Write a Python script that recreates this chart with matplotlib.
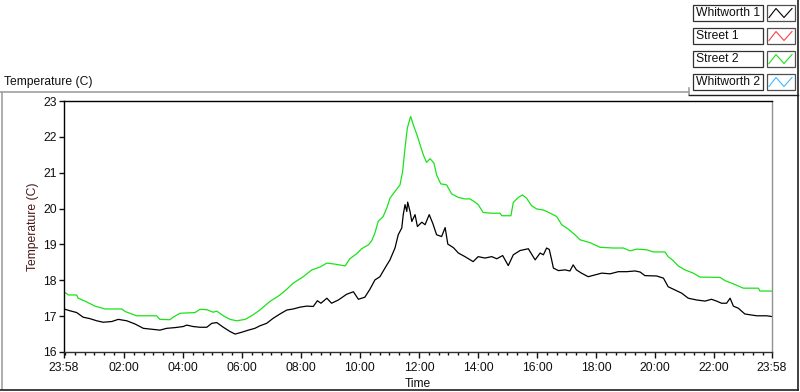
import matplotlib
matplotlib.use('Agg')
import matplotlib.pyplot as plt
from matplotlib.patches import Rectangle

plt.rcParams['font.family'] = ['Liberation Sans', 'DejaVu Sans']

# ---------------- data ----------------
series_names = ['Whitworth 1', 'Street 1', 'Street 2', 'Whitworth 2']
series_colors = ['#000000', '#ff4040', '#18e418', '#40b8ff']

x_tick_labels = ['23:58', '02:00', '04:00', '06:00', '08:00', '10:00', '12:00',
                 '14:00', '16:00', '18:00', '20:00', '22:00', '23:58']
y_ticks = [16, 17, 18, 19, 20, 21, 22, 23]
x_title = 'Time'
y_title = 'Temperature (C)'
chart_caption = 'Temperature (C)'

# hours elapsed since 23:58
whitworth1_hours = [0.00, 0.20, 0.43, 0.65, 0.88, 1.11, 1.33, 1.62, 1.84, 2.13, 2.41, 2.69,
                    3.03, 3.25, 3.48, 3.76, 4.04, 4.16, 4.38, 4.61, 4.84, 5.01, 5.18, 5.40,
                    5.63, 5.80, 6.02, 6.25, 6.47, 6.64, 6.87, 7.09, 7.32, 7.55, 7.77, 8.00,
                    8.23, 8.45, 8.59, 8.71, 8.91, 9.07, 9.30, 9.58, 9.81, 9.98, 10.20, 10.37,
                    10.54, 10.71, 10.88, 11.05, 11.22, 11.33, 11.45, 11.50, 11.56, 11.62, 11.65,
                    11.73, 11.79, 11.90, 11.98, 12.13, 12.24, 12.38, 12.50, 12.63, 12.80, 12.92,
                    13.01, 13.20, 13.37, 13.59, 13.87, 14.04, 14.27, 14.50, 14.67, 14.87, 15.06,
                    15.23, 15.46, 15.74, 15.97, 16.14, 16.25, 16.36, 16.45, 16.53, 16.59, 16.76,
                    16.98, 17.15, 17.26, 17.37, 17.54, 17.77, 18.00, 18.23, 18.51, 18.79, 19.07,
                    19.36, 19.53, 19.69, 20.09, 20.32, 20.48, 20.71, 20.94, 21.16, 21.45, 21.73,
                    21.95, 22.12, 22.29, 22.46, 22.58, 22.69, 22.86, 23.08, 23.48, 23.82, 23.99]
whitworth1_temp = [17.20, 17.15, 17.10, 16.97, 16.93, 16.87, 16.83, 16.85, 16.91, 16.87, 16.78, 16.66,
                   16.63, 16.61, 16.66, 16.68, 16.71, 16.75, 16.71, 16.69, 16.69, 16.80, 16.82, 16.69,
                   16.57, 16.50, 16.55, 16.61, 16.66, 16.73, 16.80, 16.94, 17.06, 17.17, 17.20, 17.25,
                   17.28, 17.27, 17.43, 17.36, 17.50, 17.36, 17.45, 17.61, 17.68, 17.47, 17.53, 17.75,
                   18.01, 18.10, 18.34, 18.57, 18.90, 19.27, 19.46, 19.83, 20.11, 19.92, 20.18,
                   19.92, 19.64, 19.83, 19.50, 19.62, 19.55, 19.83, 19.59, 19.27, 19.22, 19.47,
                   19.01, 18.91, 18.76, 18.66, 18.52, 18.66, 18.62, 18.66, 18.60, 18.69, 18.41,
                   18.71, 18.83, 18.88, 18.57, 18.76, 18.71, 18.90, 18.86, 18.57, 18.34, 18.27,
                   18.29, 18.26, 18.43, 18.29, 18.20, 18.10, 18.15, 18.20, 18.18, 18.24, 18.24,
                   18.26, 18.23, 18.13, 18.12, 18.06, 17.82, 17.73, 17.64, 17.50, 17.45, 17.42,
                   17.47, 17.42, 17.36, 17.36, 17.50, 17.28, 17.22, 17.06, 17.01, 17.01, 16.99]

street2_hours = [0.00, 0.15, 0.43, 0.48, 0.71, 1.05, 1.39, 1.96, 2.07, 2.46, 3.14, 3.25, 3.59,
                 3.70, 3.93, 4.44, 4.61, 4.84, 5.06, 5.18, 5.40, 5.63, 5.85, 6.14, 6.36, 6.64,
                 6.98, 7.32, 7.55, 7.77, 8.11, 8.40, 8.68, 8.91, 9.19, 9.53, 9.69, 9.92, 10.09,
                 10.32, 10.43, 10.54, 10.65, 10.82, 10.94, 11.05, 11.22, 11.39, 11.48, 11.56,
                 11.64, 11.75, 11.86, 11.98, 12.07, 12.18, 12.29, 12.41, 12.54, 12.63, 12.77,
                 12.97, 13.14, 13.37, 13.59, 13.76, 13.93, 14.04, 14.21, 14.50, 14.78, 14.84,
                 15.15, 15.23, 15.40, 15.54, 15.68, 15.85, 16.02, 16.25, 16.36, 16.53, 16.70,
                 16.87, 17.09, 17.32, 17.49, 17.83, 18.17, 18.62, 18.96, 19.19, 19.41, 19.75,
                 19.98, 20.37, 20.48, 20.65, 20.82, 21.05, 21.33, 21.56, 22.24, 22.41, 22.69,
                 23.03, 23.54, 23.59, 23.99]
street2_temp = [17.68, 17.59, 17.59, 17.50, 17.42, 17.28, 17.20, 17.20, 17.13, 17.01, 17.01, 16.91, 16.90,
                16.97, 17.08, 17.10, 17.19, 17.18, 17.11, 17.14, 17.01, 16.91, 16.87, 16.91, 17.01, 17.17,
                17.41, 17.59, 17.75, 17.92, 18.10, 18.29, 18.37, 18.48, 18.45, 18.40, 18.60, 18.74, 18.88,
                18.99, 19.10, 19.32, 19.64, 19.78, 20.01, 20.29, 20.48, 20.66, 21.04, 21.69,
                22.25, 22.57, 22.29, 22.02, 21.78, 21.50, 21.29, 21.39, 21.27, 20.94, 20.69,
                20.66, 20.41, 20.31, 20.27, 20.27, 20.18, 20.11, 19.89, 19.87, 19.87, 19.80,
                19.80, 20.17, 20.31, 20.38, 20.29, 20.08, 19.99, 19.96, 19.92, 19.85, 19.78,
                19.55, 19.43, 19.27, 19.13, 19.05, 18.92, 18.90, 18.90, 18.82, 18.87, 18.85,
                18.79, 18.79, 18.66, 18.55, 18.40, 18.29, 18.20, 18.09, 18.08, 17.99, 17.90,
                17.78, 17.78, 17.70, 17.70]


def clock_to_elapsed(label, start='23:58'):
    h, m = map(int, label.split(':'))
    sh, sm = map(int, start.split(':'))
    return ((h * 60 + m - (sh * 60 + sm)) % 1440) / 60.0


x_tick_pos = [clock_to_elapsed(l) for l in x_tick_labels]
x_tick_pos[-1] = 24.0
minor_pos = [clock_to_elapsed('00:00') + k / 3.0 for k in range(72)]
minor_pos = [p for p in minor_pos if p < 24.0 and all(abs(p - q) > 1e-6 for q in x_tick_pos)]

# ---------------- figure ----------------
fig = plt.figure(figsize=(8.0, 3.92), dpi=100)
fig.patch.set_facecolor('white')

# overlay in pixel coordinates for frame, caption and legend
bg = fig.add_axes([0, 0, 1, 1], zorder=0)
bg.set_xlim(0, 800)
bg.set_ylim(392, 0)
bg.axis('off')

gray = '#a0a0a0'
bg.plot([0, 689], [91.5, 91.5], color=gray, lw=1.2)
bg.plot([1.5, 1.5], [91.5, 389], color=gray, lw=1.2)
bg.plot([689, 689], [88, 95], color=gray, lw=1.2)
bg.plot([689, 798], [94.5, 94.5], color='#202020', lw=1.0)
bg.plot([797.5, 797.5], [0, 390], color='#202020', lw=1.2)
bg.plot([0, 798], [389.5, 389.5], color='#202020', lw=1.2)
bg.text(4, 82, chart_caption, fontsize=8.7, ha='left', va='center', color='#101010')

# legend
for i, (name, col) in enumerate(zip(series_names, series_colors)):
    y0 = 4.5 + i * 23.0
    bg.add_patch(Rectangle((693, y0), 70, 16, facecolor='white', edgecolor='#303030', lw=0.9))
    bg.add_patch(Rectangle((767, y0), 28, 16, facecolor='white', edgecolor='#505050', lw=0.9))
    bg.text(695.5, y0 + 8.3, name, fontsize=8.7, ha='left', va='center', color='#101010')
    xs = [769, 776, 784, 792]
    ys = [y0 + 13, y0 + 4, y0 + 13, y0 + 4]
    bg.plot(xs, ys, color=col, lw=0.8)

# main plot
ax = fig.add_axes([64 / 800, 1 - 352 / 392, 708 / 800, 251 / 392], zorder=1)
ax.set_facecolor('white')
ax.plot(street2_hours, street2_temp, color=series_colors[2], lw=0.9)
ax.plot(whitworth1_hours, whitworth1_temp, color=series_colors[0], lw=0.9)

ax.set_xlim(0, 24)
ax.set_ylim(16, 23)
ax.set_xticks(x_tick_pos)
ax.set_xticklabels(x_tick_labels)
ax.set_xticks(minor_pos, minor=True)
ax.set_yticks(y_ticks)
ax.set_yticklabels([str(v) for v in y_ticks])
ax.tick_params(axis='both', which='major', labelsize=8.7, colors='#101010', width=1.0)
ax.tick_params(axis='x', which='major', length=4.5, pad=2.5)
ax.tick_params(axis='x', which='minor', length=2.5, width=1.0, color='#101010')
ax.tick_params(axis='y', which='major', length=3.8, pad=1.5)

ax.spines['left'].set_color('#000000')
ax.spines['top'].set_color('#000000')
ax.spines['bottom'].set_color('#303030')
ax.spines['right'].set_color('#909090')
for s in ax.spines.values():
    s.set_linewidth(1.0)

ax.set_xlabel(x_title, fontsize=8.7, labelpad=3, color='#101010')
ax.set_ylabel(y_title, fontsize=8.7, labelpad=3, color='#4a1818')

fig.savefig('out.png', dpi=100)
